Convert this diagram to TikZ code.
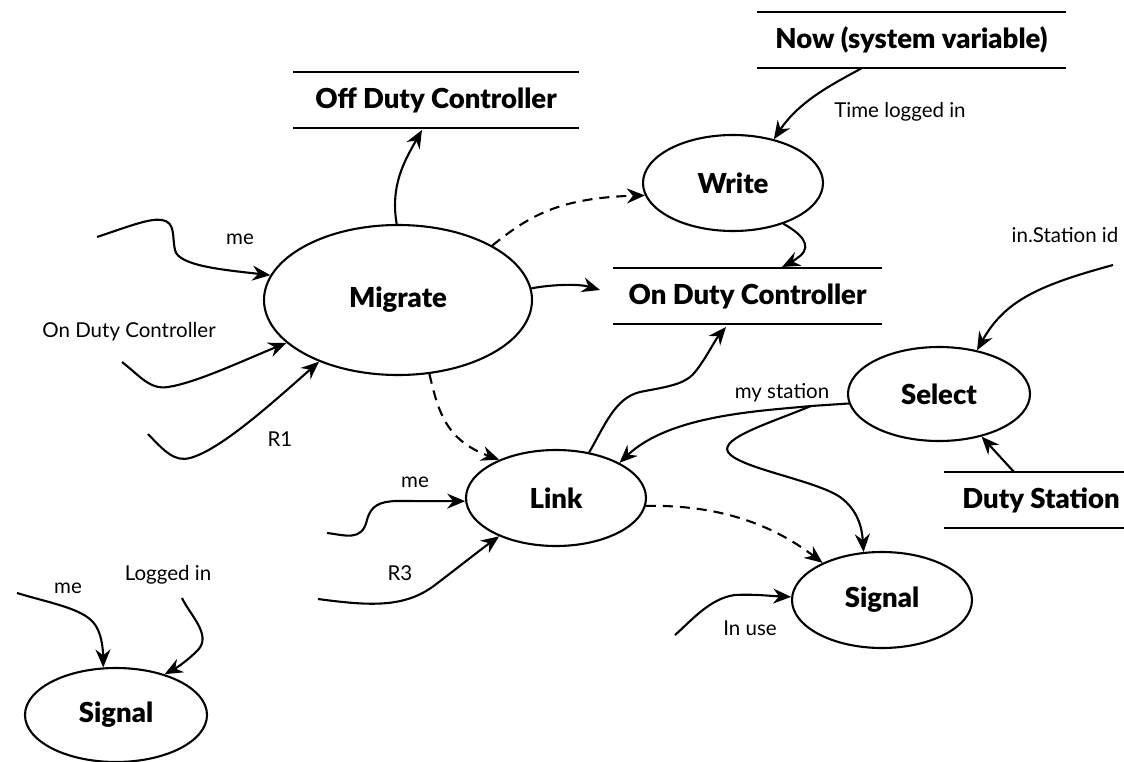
\documentclass[tikz,border=0pt]{standalone}
\usepackage{fontspec}
\setmainfont{Lato}[BoldFont={Lato Black}]
\usetikzlibrary{shapes.geometric,arrows.meta}
\begin{document}
\begin{tikzpicture}[x=1pt,y=-1pt,
  proc/.style={ellipse,draw,line width=2.1pt,inner sep=0pt,
    font=\fontsize{27.5}{32}\selectfont\bfseries},
  store/.style={inner sep=0pt,outer sep=0pt,
    font=\fontsize{27.5}{32}\selectfont\bfseries},
  storeline/.style={line width=2.1pt},
  flow/.style={line width=2.1pt,-{Stealth[length=18pt,width=15pt,inset=6pt]}},
  ctrl/.style={flow,dash pattern=on 10pt off 7pt},
  lbl/.style={font=\fontsize{20.5}{24}\selectfont,inner sep=0pt}]
\useasboundingbox (0,0) rectangle (1124,762);

% processes
\node[proc,minimum width=268pt,minimum height=150pt] (mig) at (398,300) {Migrate};
\node[proc,minimum width=180pt,minimum height=96pt] (wr) at (733,183) {Write};
\node[proc,minimum width=182pt,minimum height=94pt] (sel) at (939,394) {Select};
\node[proc,minimum width=180pt,minimum height=96pt] (lk) at (556,498) {Link};
\node[proc,minimum width=180pt,minimum height=96pt] (sg2) at (882,600) {Signal};
\node[proc,minimum width=182pt,minimum height=94pt] (sg1) at (116,715) {Signal};

% data stores
\node[store,minimum width=286pt,minimum height=56pt] (off) at (436,100) {Off Duty Controller};
\node[store,minimum width=309pt,minimum height=56pt] (now) at (911.5,40) {Now (system variable)};
\node[store,minimum width=269pt,minimum height=56pt] (ond) at (747.5,296) {On Duty Controller};
\node[store,minimum width=194pt,minimum height=56pt] (duty) at (1041,500) {Duty Station};
\foreach \s in {off,now,ond,duty}
  \draw[storeline] (\s.north west) -- (\s.north east) (\s.south west) -- (\s.south east);

% free ends of the external flows
\coordinate (me1) at (97,237);
\coordinate (odc) at (122,362);
\coordinate (r1) at (148,434);
\coordinate (me2) at (327,533);
\coordinate (r3) at (318,599);
\coordinate (ius) at (675,635);
\coordinate (ins) at (1113,265);
\coordinate (me3) at (17,593);
\coordinate (lgd) at (182,598);
\coordinate (br) at (811,406);

% flow labels
\node[lbl] (lme1) at (240,239) {me};
\node[lbl] (lodc) at (129,332) {On Duty Controller};
\node[lbl] (lr1) at (280,439) {R1};
\node[lbl] (ltime) at (900,112) {Time logged in};
\node[lbl] (lins) at (1065,235) {in.Station id};
\node[lbl] (lmys) at (782,393) {my station};
\node[lbl] (lme2) at (415,482) {me};
\node[lbl] (lr3) at (400,573) {R3};
\node[lbl] (liu) at (750,628) {In use};
\node[lbl] (lme3) at (68,588) {me};
\node[lbl] (llog) at (168,575) {Logged in};

% flows into Migrate
\draw[flow] (me1) .. controls (130,226) and (150,218) .. (162,220)
  .. controls (176,222) and (172,238) .. (175,250)
  .. controls (178,266) and (225,270) .. (mig.169);
\draw[flow] (odc) .. controls (140,376) and (150,390) .. (168,387)
  .. controls (195,383) and (240,362) .. (mig.201);
\draw[flow] (r1) .. controls (165,452) and (175,462) .. (190,458)
  .. controls (220,450) and (270,405) .. (mig.218);

% flows out of Migrate
\draw[flow] (mig.91) .. controls (390,185) and (405,160) .. ([xshift=-14pt,yshift=-2pt]off.south);
\draw[ctrl] (mig.30) .. controls (530,215) and (560,198) .. (wr.188);
\draw[flow] (mig.5) .. controls (555,284) and (580,284) .. ([shift={(-13pt,6pt)}]ond.west);
\draw[ctrl] (mig.293) .. controls (438,410) and (445,440) .. (lk.146);

% Write
\draw[flow] ([xshift=-49.5pt]now.south) .. controls (835,83) and (800,100) .. (wr.47);
\draw[flow] (wr.321) .. controls (800,233) and (813,245) .. (800,256)
  .. controls (795,260) and (790,263) .. ([xshift=34.5pt,yshift=1pt]ond.north);

% Select
\draw[flow] (ins) .. controls (1040,285) and (1005,300) .. (sel.49);
\draw[flow] ([xshift=-27pt]duty.north) -- (sel.315);
\draw[flow] (sel.186) -- (br) .. controls (760,411) and (670,415) .. (lk.29);
\draw[flow] (br) .. controls (770,423) and (720,438) .. (728,452)
  .. controls (738,468) and (815,480) .. (840,497)
  .. controls (858,510) and (862,528) .. (sg2.111);

% Link
\draw[flow] (me2) .. controls (345,535) and (362,542) .. (367,520)
  .. controls (371,505) and (380,502) .. (395,501) -- (lk.182);
\draw[flow] (r3) .. controls (370,606) and (405,608) .. (435,585)
  .. controls (460,566) and (480,550) .. (lk.214);
\draw[flow] (lk.54) .. controls (605,425) and (615,398) .. (640,392)
  .. controls (665,387) and (685,385) .. (695,372)
  .. controls (705,360) and (715,340) .. ([shift={(-21.5pt,-3pt)}]ond.south);
\draw[ctrl] (lk.355) .. controls (700,505) and (760,515) .. (sg2.148);

% Signal
\draw[flow] (ius) .. controls (690,622) and (710,598) .. (735,595)
  .. controls (755,594) and (770,596) .. (sg2.178);
\draw[flow] (me3) .. controls (50,603) and (80,608) .. (93,622)
  .. controls (102,632) and (103,650) .. (sg1.105);
\draw[flow] (lgd) .. controls (190,615) and (212,635) .. (198,650)
  .. controls (188,660) and (178,667) .. (sg1.40);
\end{tikzpicture}
\end{document}
